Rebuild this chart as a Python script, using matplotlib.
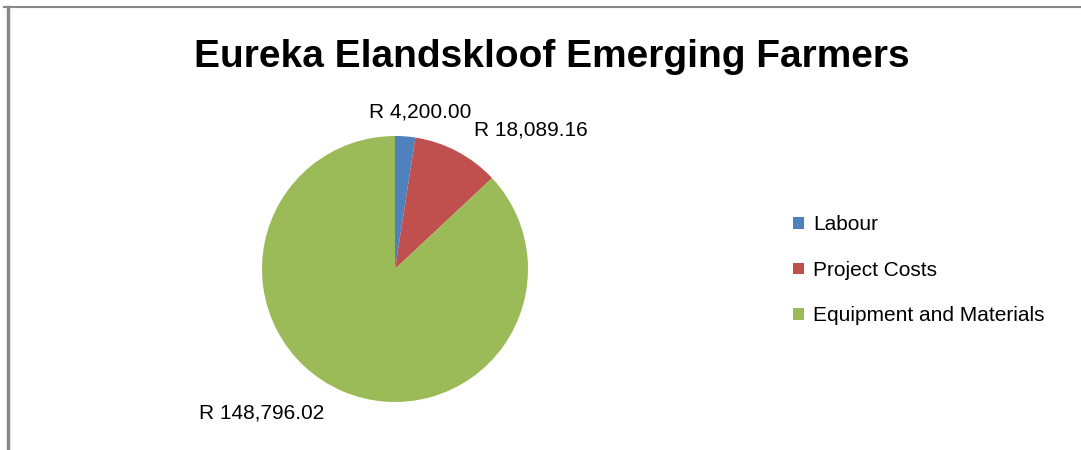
import matplotlib.pyplot as plt
from matplotlib.patches import Patch
from matplotlib.lines import Line2D

# chart data
categories = ['Labour', 'Project Costs', 'Equipment and Materials']
amounts = [4200.00, 18089.16, 148796.02]
colours = ['#4F81BD', '#C0504D', '#9BBB59']

plt.rcParams['font.family'] = ['Liberation Sans', 'DejaVu Sans']

fig = plt.figure(figsize=(10.81, 4.5), dpi=100)

# grey frame (top and left edges visible)
fig.add_artist(Line2D([4 / 1081, 1], [1 - 7 / 450, 1 - 7 / 450], transform=fig.transFigure, color='#888888', lw=1.5))
fig.add_artist(Line2D([8 / 1081, 8 / 1081], [0, 1 - 7 / 450], transform=fig.transFigure, color='#888888', lw=2.5))

fig.text(552 / 1081, 1 - 57 / 450, 'Eureka Elandskloof Emerging Farmers',
         ha='center', va='center', fontsize=28, fontweight='bold')

ax = fig.add_axes([262 / 1081, 1 - 402 / 450, 266 / 1081, 266 / 450])
wedges, texts = ax.pie(amounts, colors=colours, startangle=90, counterclock=False,
                       labels=['R {:,.2f}'.format(a) for a in amounts],
                       textprops={'fontsize': 15}, radius=1)
ax.set_xlim(-1, 1)
ax.set_ylim(-1, 1)
ax.set_aspect('equal')

# data label positions (Excel best fit)
label_pos = [(0.19, 1.18), (1.02, 1.045), (-1.0, -1.08)]
for t, (lx, ly) in zip(texts, label_pos):
    t.set_position((lx, ly))
    t.set_ha('center')
    t.set_va('center')

handles = [Patch(facecolor=c, edgecolor='none') for c in colours]
fig.legend(handles, categories, loc='upper left', bbox_to_anchor=(783 / 1081, 1 - 205 / 450),
           frameon=False, fontsize=15, handlelength=0.5, handleheight=0.5,
           handletextpad=0.45, labelspacing=1.27, borderpad=0)

fig.savefig('out.png', dpi=100)
